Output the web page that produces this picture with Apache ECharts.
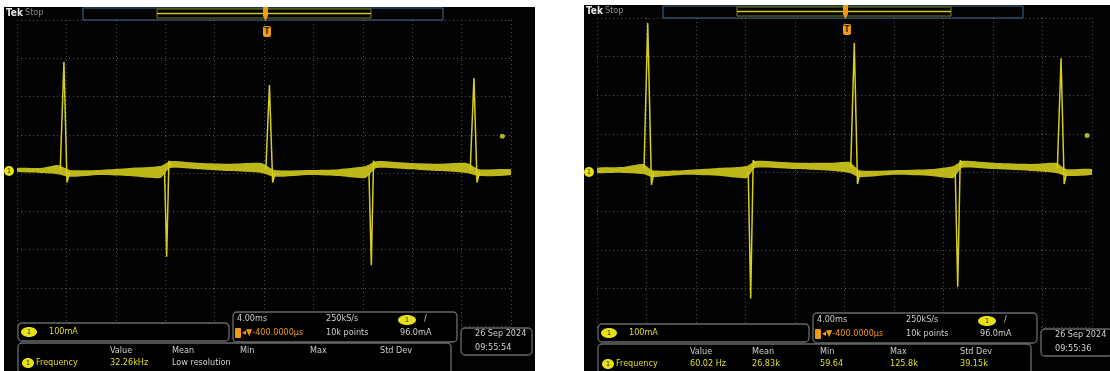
<!DOCTYPE html>
<html>
<head>
<meta charset="utf-8">
<script src="https://cdn.jsdelivr.net/npm/echarts@6/dist/echarts.min.js"></script>
<style>
html,body{margin:0;padding:0;background:#fff;}
#c{width:1110px;height:371px;}
</style>
</head>
<body>
<div id="c"></div>
<script>
// ---------- DATA (time in ms, current in mA; 4 ms/div, 100 mA/div) ----------
const timeRange = [-20, 20];
const timeStep = 4;
const currentRange = [-400, 400];
const currentStep = 100;
const triggerLevel = 96;

// left capture: noise envelope of the trace
const leftBandT  = [-20, -18.1, -16.7, -15.7, -13.3, -10.9, -8.4, -7.6, -5.2, -2.8, -0.2, 0.85, 3.7, 6.1, 8.2, 9.1, 11.8, 14.2, 16.4, 17.4, 20];
const leftBandHi = [13, 13, 21, 8, 8, 13, 18, 31, 26, 24, 26, 8, 8, 10, 18, 31, 26, 24, 26, 10, 10];
const leftBandLo = [3, 0, -3, -10, -5, -8, -13, 13, 10, 5, 0, -10, -5, -8, -13, 13, 10, 5, 0, -8, -5];
// left capture: spikes (null separates spikes)
const leftSpikeT = [-16.5, -16.2, -15.95, -15.75, null, -8.05, -7.88, -7.7, -7.5, null, 0.15, 0.44, 0.7, 0.9, null, 8.5, 8.69, 8.87, 9.05, null, 16.7, 17.0, 17.25, 17.45];
const leftSpikeV = [8, 291, -25, 3, null, 0, -219, 32, 20, null, 10, 230, -25, 0, null, 0, -241, 32, 20, null, 8, 248, -25, 3];

// right capture
const rightBandT  = [-20, -18, -16.3, -15.5, -13, -10, -7.9, -7.2, -4, -1, 0.4, 1.2, 4, 7, 8.8, 9.5, 12, 15, 17.1, 17.9, 20];
const rightBandHi = [12, 14, 22, 6, 6, 12, 17, 30, 25, 25, 27, 6, 6, 9, 17, 30, 25, 22, 25, 9, 9];
const rightBandLo = [-1, -1, -4, -12, -6, -9, -14, 12, 9, 4, -1, -12, -6, -9, -14, 12, 9, 4, -1, -9, -6];
const rightSpikeT = [-16.2, -15.9, -15.6, -15.4, null, -7.78, -7.58, -7.38, -7.2, null, 0.5, 0.79, 1.05, 1.25, null, 8.95, 9.15, 9.35, 9.55, null, 17.2, 17.5, 17.75, 17.95];
const rightSpikeV = [10, 387, -32, 0, null, 0, -326, 32, 22, null, 12, 335, -30, 0, null, 0, -296, 32, 22, null, 10, 296, -30, 0];

// readouts
const scaleText = '100mA';
const timebaseText = '4.00ms';
const sampleRateText = '250kS/s';
const delayText = '\u25C2\u25BC-400.0000\u00B5s';
const recordText = '10k points';
const trigText = '96.0mA';
const measHeaders = ['Value', 'Mean', 'Min', 'Max', 'Std Dev'];
const measName = 'Frequency';
const leftMeasValues = ['32.26kHz', 'Low resolution', '', '', ''];
const rightMeasValues = ['60.02 Hz', '26.83k', '59.64', '125.8k', '39.15k'];
const leftDate = ['26 Sep 2024', '09:55:54'];
const rightDate = ['26 Sep 2024', '09:55:36'];

// ---------- CHART ----------
const FONT = "'Liberation Sans Narrow','DejaVu Sans Condensed','Liberation Sans',sans-serif";
const YEL = '#e4dc26';
const GRAY = '#cfcfcf';
const ORANGE = '#ef9a12';
const BOX = '#6a6a6a';

function axisX(i){
  return {type:'value', gridIndex:i, min:timeRange[0], max:timeRange[1], interval:timeStep,
    axisLine:{show:false}, axisTick:{show:false}, axisLabel:{show:false},
    splitLine:{show:true, lineStyle:{color:'#3a5878', width:1, type:[1,3]}}};
}
function axisY(i){
  return {type:'value', gridIndex:i, min:currentRange[0], max:currentRange[1], interval:currentStep,
    axisLine:{show:false}, axisTick:{show:false}, axisLabel:{show:false},
    splitLine:{show:true, lineStyle:{color:'#3a5878', width:1, type:[1,3]}}};
}
function bandSeries(gi, T, HI, LO){
  return {type:'custom', xAxisIndex:gi, yAxisIndex:gi, clip:true, silent:true, z:3,
    data: T.map((t,i)=>[t, HI[i], LO[i]]),
    encode:{x:0, y:[1,2]},
    renderItem:(params, api)=>{
      if (params.dataIndex !== 0) return {type:'group', children:[]};
      const top = T.map((t,i)=>api.coord([t, HI[i]]));
      const bot = T.map((t,i)=>api.coord([t, LO[i]])).reverse();
      return {type:'polygon', shape:{points: top.concat(bot), smooth:0.2},
        style:{fill:'#d2cb1c', opacity:0.9}};
    }};
}
function spikeSeries(gi, T, V){
  return {type:'line', xAxisIndex:gi, yAxisIndex:gi, silent:true, z:4,
    showSymbol:false, connectNulls:false, animation:false,
    data: T.map((t,i)=> t === null ? ['-', '-'] : [t, V[i]]),
    lineStyle:{color:'#d6cf20', width:1.5}};
}
function trigSeries(gi, t){
  return {type:'scatter', xAxisIndex:gi, yAxisIndex:gi, silent:true, z:5,
    symbolSize:5, itemStyle:{color:YEL}, data:[[t, triggerLevel]]};
}

function txt(x, y, s, color, opt){
  opt = opt || {};
  return {type:'text', x:x, y:y, z:100, silent:true,
    style:{text:s, fill:color, font:(opt.bold?'bold ':'') + (opt.size||9) + 'px ' + FONT,
      textAlign:opt.align||'left', textVerticalAlign:'middle'}};
}
function rrect(x, y, w, h, stroke, fill, r){
  return {type:'rect', z:90, silent:true, shape:{x:x, y:y, width:w, height:h, r:r===undefined?4:r},
    style:{stroke:stroke, fill:fill||'#000', lineWidth:1.3}};
}
function badge(cx, cy, rx, ry){
  return [
    {type:'ellipse', z:95, silent:true, shape:{cx:cx, cy:cy, rx:rx, ry:ry}, style:{fill:'#e8e01a'}},
    txt(cx, cy, '1', '#222', {align:'center', size:7})
  ];
}

function chrome(ox, pw, dyTop, dyBot, vals, date, groundY){
  const g = [];
  // black screen
  g.push({type:'rect', z:-100, silent:true, shape:{x:ox+4, y:7+dyTop, width:pw, height:371}, style:{fill:'#020202'}});
  // top bar
  g.push(txt(ox+6, 13+dyTop, 'Tek', '#e6e6e6', {bold:true, size:10}));
  g.push(txt(ox+25, 13+dyTop, 'Stop', '#8e8e8e', {size:9}));
  g.push({type:'rect', z:90, silent:true, shape:{x:ox+83, y:8+dyTop, width:360, height:12}, style:{stroke:'#3e6a92', fill:null, lineWidth:1}});
  g.push({type:'rect', z:91, silent:true, shape:{x:ox+157, y:9+dyTop, width:214, height:9}, style:{stroke:'#7d7a1a', fill:null, lineWidth:1}});
  g.push({type:'line', z:92, silent:true, shape:{x1:ox+157, y1:13.5+dyTop, x2:ox+371, y2:13.5+dyTop}, style:{stroke:'#cfc81c', lineWidth:1.5}});
  g.push({type:'polygon', z:93, silent:true, shape:{points:[[ox+263,7+dyTop],[ox+268,7+dyTop],[ox+268,16+dyTop],[ox+265.5,21+dyTop],[ox+263,16+dyTop]]}, style:{fill:ORANGE}});
  g.push({type:'rect', z:93, silent:true, shape:{x:ox+263, y:26+dyTop, width:8, height:11, r:2}, style:{fill:ORANGE}});
  g.push(txt(ox+267, 31.5+dyTop, 'T', '#3a2000', {align:'center', size:8, bold:true}));
  // ground marker
  g.push({type:'rect', z:95, silent:true, shape:{x:ox+4, y:groundY-5, width:10, height:10, r:5}, style:{fill:'#e8e01a'}});
  g.push(txt(ox+9, groundY, '1', '#222', {align:'center', size:7}));
  // vertical scale box
  g.push(rrect(ox+18, 323+dyBot, 211, 18, BOX));
  g.push(...badge(ox+29, 332+dyBot, 8, 5));
  g.push(txt(ox+49, 332+dyBot, scaleText, YEL));
  // timebase box
  g.push(rrect(ox+233, 312+dyBot, 224, 30, BOX));
  g.push(txt(ox+237, 319+dyBot, timebaseText, GRAY));
  g.push(txt(ox+326, 319+dyBot, sampleRateText, GRAY));
  g.push(...badge(ox+407, 320+dyBot, 9, 5));
  g.push(txt(ox+424, 319+dyBot, '/', GRAY));
  g.push({type:'rect', z:95, silent:true, shape:{x:ox+235, y:328+dyBot, width:6, height:10, r:1}, style:{fill:ORANGE}});
  g.push(txt(ox+242, 333+dyBot, delayText, ORANGE));
  g.push(txt(ox+326, 333+dyBot, recordText, GRAY));
  g.push(txt(ox+400, 333+dyBot, trigText, GRAY));
  // date box
  g.push(rrect(ox+461, 328+dyBot, 71, 27, BOX));
  g.push(txt(ox+475, 334+dyBot, date[0], GRAY));
  g.push(txt(ox+475, 348+dyBot, date[1], GRAY));
  // measurement box
  g.push(rrect(ox+18, 343+dyBot, 433, 40, BOX));
  const cols = [110, 172, 240, 310, 380];
  measHeaders.forEach((h,i)=> g.push(txt(ox+cols[i], 351+dyBot, h, GRAY)));
  g.push(...badge(ox+28, 363+dyBot, 6, 5));
  g.push(txt(ox+36, 363+dyBot, measName, YEL));
  vals.forEach((v,i)=> g.push(txt(ox+cols[i], 363+dyBot, v, v === 'Low resolution' ? GRAY : YEL)));
  return g;
}

const chart = echarts.init(document.getElementById('c'), null, {renderer:'canvas'});
chart.setOption({
  backgroundColor:'#ffffff',
  animation:false,
  grid:[
    {left:17, top:20, width:494, height:306},
    {left:597, top:18, width:495, height:309}
  ],
  xAxis:[axisX(0), axisX(1)],
  yAxis:[axisY(0), axisY(1)],
  series:[
    bandSeries(0, leftBandT, leftBandHi, leftBandLo),
    spikeSeries(0, leftSpikeT, leftSpikeV),
    trigSeries(0, 19.3),
    bandSeries(1, rightBandT, rightBandHi, rightBandLo),
    spikeSeries(1, rightSpikeT, rightSpikeV),
    trigSeries(1, 19.6)
  ],
  graphic:{elements:[].concat(
    chrome(0, 531, 0, 0, leftMeasValues, leftDate, 171),
    chrome(580, 530, -2, 1, rightMeasValues, rightDate, 172)
  )}
});
</script>
</body>
</html>
